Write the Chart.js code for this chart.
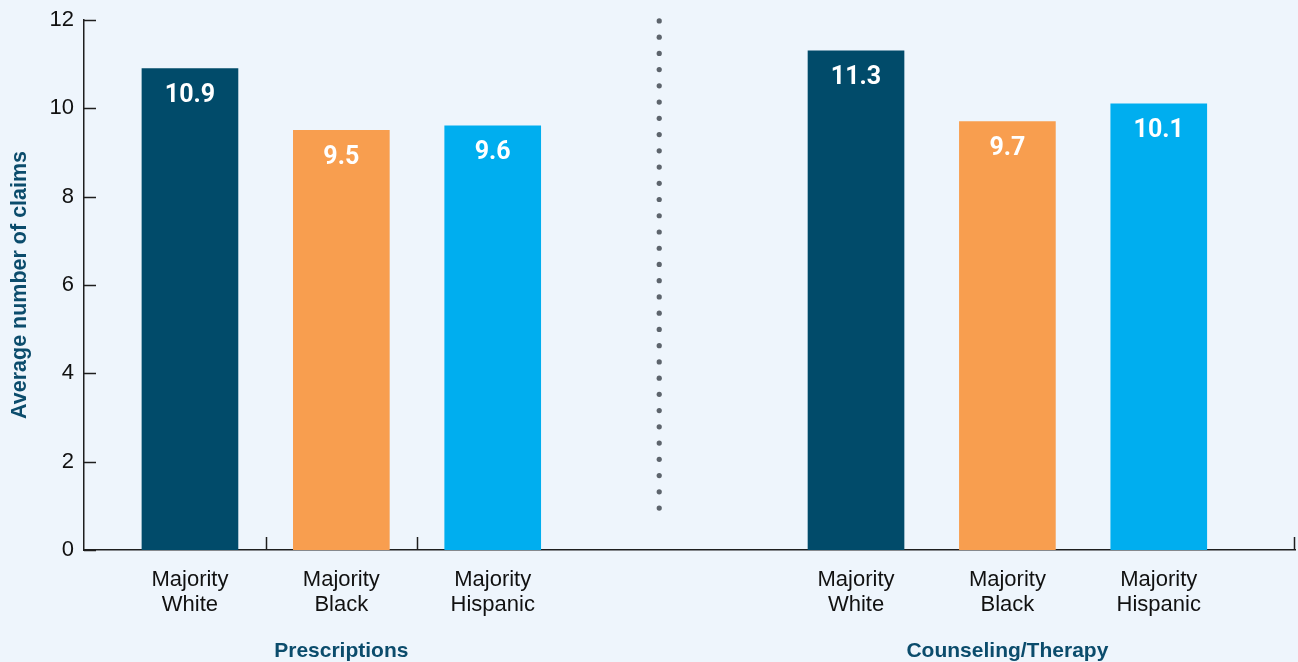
<!DOCTYPE html>
<html>
<head>
<meta charset="utf-8">
<script src="https://cdn.jsdelivr.net/npm/chart.js@4/dist/chart.umd.min.js"></script>
<style>
  html, body { margin: 0; padding: 0; background: #eef5fc; }
  #wrap { width: 1298px; height: 662px; position: relative; }
</style>
</head>
<body>
<div id="wrap"><canvas id="claims"></canvas></div>
<script>
// data
const races = ['Majority White', 'Majority Black', 'Majority Hispanic']
const groups = ['Prescriptions', 'Counseling/Therapy']
const prescriptions = [10.9, 9.5, 9.6]
const counseling = [11.3, 9.7, 10.1]
const yTicks = [0, 2, 4, 6, 8, 10, 12]

// look
const raceColors = ['#014b6a', '#f89e4f', '#00aeef']
const titleColor = '#0b4c6c'
const axisColor = '#1e1e1e'

// slot layout on the category axis (blank slots keep the spacing)
const LEAD = 3
const STEP = 5
const GROUP_GAP = 12
const TAIL = 4
const SEP_AFTER = 18

let labels = []
let values = []
let colors = []
let barGroup = []

function blank(n) {
  for (let i = 0; i < n; i++) {
    labels.push('')
    values.push(null)
    colors.push('transparent')
    barGroup.push(-1)
  }
}

blank(LEAD)
;[prescriptions, counseling].forEach((vals, g) => {
  if (g > 0) blank(GROUP_GAP - 1)
  vals.forEach((v, i) => {
    if (i > 0) blank(STEP - 1)
    labels.push(races[i].split(' '))
    values.push(v)
    colors.push(raceColors[i])
    barGroup.push(g)
  })
})
blank(TAIL)

const decorPlugin = {
  id: 'decor',
  afterDatasetsDraw(chart) {
    const { ctx, chartArea, scales } = chart
    const x = scales.x
    const y = scales.y
    const meta = chart.getDatasetMeta(0)
    ctx.save()

    // inward tick marks on the y axis
    ctx.strokeStyle = axisColor
    ctx.lineWidth = 1.5
    yTicks.forEach((t) => {
      const py = Math.round(y.getPixelForValue(t)) + 0.5
      ctx.beginPath()
      ctx.moveTo(chartArea.left, py)
      ctx.lineTo(chartArea.left + 12, py)
      ctx.stroke()
    })

    // small x ticks between the first group's bars, and at the right end
    const g0 = []
    barGroup.forEach((g, i) => { if (g === 0) g0.push(i) })
    let xs = []
    for (let k = 1; k < g0.length; k++) {
      xs.push((x.getPixelForValue(g0[k - 1]) + x.getPixelForValue(g0[k])) / 2)
    }
    xs.push(chartArea.right - 1)
    xs.forEach((px) => {
      ctx.beginPath()
      ctx.moveTo(Math.round(px) + 0.5, chartArea.bottom)
      ctx.lineTo(Math.round(px) + 0.5, chartArea.bottom - 13)
      ctx.stroke()
    })

    // dotted separator
    const sx = (x.getPixelForValue(SEP_AFTER) + x.getPixelForValue(SEP_AFTER + 1)) / 2
    const top = y.getPixelForValue(12) + 1
    const bot = y.getPixelForValue(0.95)
    const n = Math.round((bot - top) / 16)
    ctx.fillStyle = '#5d646c'
    for (let k = 0; k <= n; k++) {
      ctx.beginPath()
      ctx.arc(sx, top + (k * (bot - top)) / n, 2.6, 0, Math.PI * 2)
      ctx.fill()
    }

    // value labels inside bars
    ctx.fillStyle = '#ffffff'
    ctx.font = 'bold 25px Roboto, "Liberation Sans", Arial, sans-serif'
    ctx.textAlign = 'center'
    ctx.textBaseline = 'middle'
    meta.data.forEach((bar, i) => {
      if (values[i] == null) return
      ctx.fillText(values[i].toFixed(1), bar.x, bar.y + 27)
    })

    // group labels
    ctx.fillStyle = titleColor
    ctx.font = 'bold 21px "Liberation Sans", Arial, sans-serif'
    groups.forEach((name, g) => {
      const idx = []
      barGroup.forEach((gg, i) => { if (gg === g) idx.push(i) })
      const mid = idx[Math.floor(idx.length / 2)]
      ctx.fillText(name, x.getPixelForValue(mid), 651)
    })
    ctx.restore()
  },
}

const ctx = document.getElementById('claims').getContext('2d')
new Chart(ctx, {
  type: 'bar',
  data: {
    labels: labels,
    datasets: [
      {
        data: values,
        backgroundColor: colors,
        borderWidth: 0,
        barThickness: 96,
      },
    ],
  },
  options: {
    responsive: true,
    maintainAspectRatio: false,
    animation: false,
    layout: { padding: { top: 19, right: 3, left: 0, bottom: 0 } },
    plugins: {
      legend: { display: false },
      tooltip: { enabled: false },
    },
    scales: {
      x: {
        type: 'category',
        grid: { display: false, drawTicks: false },
        border: { color: axisColor, width: 1.5 },
        ticks: {
          autoSkip: false,
          maxRotation: 0,
          padding: 17,
          color: '#111',
          font: { family: '"Liberation Sans", Arial, sans-serif', size: 22, lineHeight: 1.14 },
        },
        afterFit: (scale) => { scale.height = 112 },
      },
      y: {
        min: 0,
        max: 12,
        grid: { display: false, drawTicks: false },
        border: { color: axisColor, width: 1.5 },
        afterBuildTicks: (scale) => { scale.ticks = yTicks.map((v) => ({ value: v })) },
        ticks: {
          padding: 10,
          color: '#111',
          font: { family: '"Liberation Sans", Arial, sans-serif', size: 22, lineHeight: 0.9 },
        },
        title: {
          display: true,
          text: 'Average number of claims',
          color: titleColor,
          padding: { top: 7, bottom: 0 },
          font: { family: '"Liberation Sans", Arial, sans-serif', size: 21.5, weight: 'bold' },
        },
        afterFit: (scale) => { scale.width = 84 },
      },
    },
  },
  plugins: [decorPlugin],
})
</script>
</body>
</html>
